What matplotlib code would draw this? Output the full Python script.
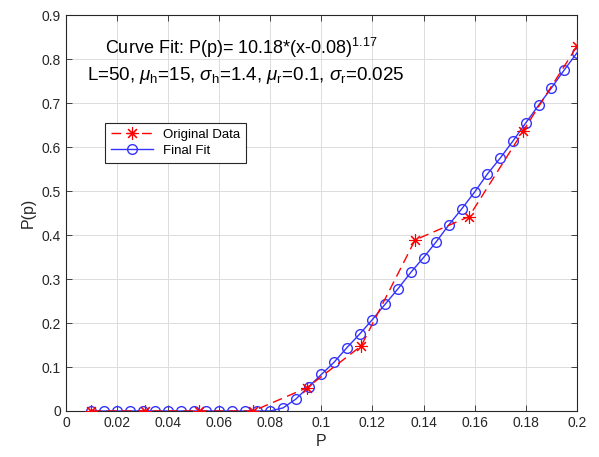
import numpy as np
import matplotlib
matplotlib.use("Agg")
import matplotlib.pyplot as plt

plt.rcParams['font.family'] = ['Liberation Sans', 'DejaVu Sans']
plt.rcParams['mathtext.fontset'] = 'custom'
plt.rcParams['mathtext.rm'] = 'Liberation Sans'
plt.rcParams['mathtext.it'] = 'Liberation Sans:italic'
plt.rcParams['mathtext.bf'] = 'Liberation Sans:bold'

# measured data
p_data = [0.01, 0.0311, 0.0522, 0.0733, 0.0944, 0.1156, 0.1367, 0.1578, 0.1789, 0.2]
P_data = [0, 0, 0, 0, 0.053, 0.148, 0.389, 0.442, 0.636, 0.829]

# fitted curve
p_fit = [0.01, 0.015, 0.02, 0.025, 0.03, 0.035, 0.04, 0.045, 0.05, 0.055,
         0.06, 0.065, 0.07, 0.075, 0.08, 0.085, 0.09, 0.095, 0.1, 0.105,
         0.11, 0.115, 0.12, 0.125, 0.13, 0.135, 0.14, 0.145, 0.15, 0.155,
         0.16, 0.165, 0.17, 0.175, 0.18, 0.185, 0.19, 0.195, 0.2]
P_fit = [0, 0, 0, 0, 0, 0, 0, 0, 0, 0,
         0, 0, 0, 0, 0, 0.007, 0.027, 0.055, 0.083, 0.111,
         0.144, 0.175, 0.208, 0.243, 0.278, 0.315, 0.349, 0.385, 0.424, 0.460,
         0.498, 0.539, 0.575, 0.614, 0.655, 0.695, 0.734, 0.775, 0.814]

xticks = np.arange(0, 0.201, 0.02)
yticks = np.arange(0, 0.91, 0.1)

fig = plt.figure(figsize=(5.99, 4.57), dpi=100)
ax = fig.add_axes([0.110, 0.1007, 0.853, 0.866])

# asterisk marker: 8 spokes
ast = (8, 2, 0)
ax.plot(p_data, P_data, '--', color='red', marker=ast, markersize=9,
        markeredgewidth=0.8, linewidth=1, dashes=(7, 4),
        label='Original Data', zorder=3)
ax.plot(p_fit, P_fit, '-', color='#3333ff', marker='o', markersize=7,
        markerfacecolor='none', markeredgewidth=1, linewidth=1,
        label='Final Fit', zorder=2)

ax.set_xlim(0, 0.2)
ax.set_ylim(0, 0.9)
ax.set_xticks(xticks)
ax.set_yticks(yticks)
ax.set_xticklabels(['0', '0.02', '0.04', '0.06', '0.08', '0.1', '0.12',
                    '0.14', '0.16', '0.18', '0.2'])
ax.set_yticklabels(['0', '0.1', '0.2', '0.3', '0.4', '0.5', '0.6', '0.7',
                    '0.8', '0.9'])
ax.tick_params(direction='in', length=4, width=0.6, labelsize=10,
               colors='#262626', top=True, right=True)
ax.grid(True, color='#dcdcdc', linewidth=0.7)
ax.set_axisbelow(True)
for s in ax.spines.values():
    s.set_color('#262626')
    s.set_linewidth(0.8)

ax.set_xlabel('P', fontsize=11.5, color='#262626', labelpad=3)
ax.set_ylabel('P(p)', fontsize=11.5, color='#262626', labelpad=4)

ax.text(0.076, 0.917, r'Curve Fit: P(p)= 10.18*(x-0.08)$^{1.17}$',
        fontsize=13, transform=ax.transAxes, va='center', ha='left')
ax.text(0.041, 0.848,
        r'L=50, $\mu_{\mathrm{h}}$=15, $\sigma_{\mathrm{h}}$=1.4, '
        r'$\mu_{\mathrm{r}}$=0.1, $\sigma_{\mathrm{r}}$=0.025',
        fontsize=13.5, transform=ax.transAxes, va='center', ha='left')

leg = ax.legend(loc='upper left', bbox_to_anchor=(0.063, 0.745), fontsize=9.5,
                fancybox=False, framealpha=1, edgecolor='#262626',
                borderpad=0.45, handlelength=3.2, labelspacing=0.3)
leg.get_frame().set_linewidth(0.8)

fig.savefig('out.png', dpi=100)
